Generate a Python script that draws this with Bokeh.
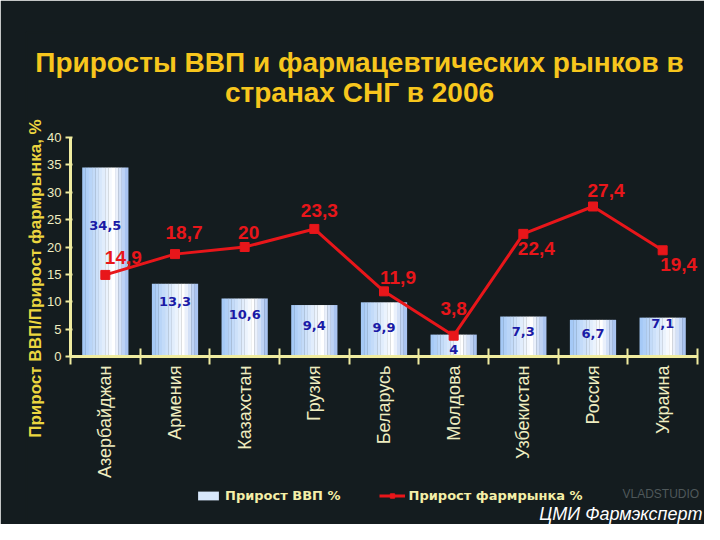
import math
from bokeh.plotting import figure
from bokeh.models import (ColumnDataSource, Range1d, FixedTicker, Legend,
                          LegendItem, Label)
from bokeh.transform import dodge
from bokeh.core.properties import value
from bokeh.embed import file_html
from bokeh.resources import INLINE

# ---------------- data ----------------
countries = ["Азербайджан", "Армения", "Казахстан", "Грузия", "Беларусь",
             "Молдова", "Узбекистан", "Россия", "Украина"]
gdp_growth = [34.5, 13.3, 10.6, 9.4, 9.9, 4.0, 7.3, 6.7, 7.1]
pharma_growth = [14.9, 18.7, 20.0, 23.3, 11.9, 3.8, 22.4, 27.4, 19.4]
y_ticks = [0, 5, 10, 15, 20, 25, 30, 35, 40]

title_lines = ["Приросты ВВП и фармацевтических рынков в", "странах СНГ в 2006"]
y_title = "Прирост ВВП/Прирост фармрынка, %"
legend_labels = ["Прирост ВВП %", "Прирост фармрынка %"]
credit = "ЦМИ Фармэксперт"

# ---------------- styles (label offsets in pixels) ----------------
bar_label_dy = [58, 18, 16, 20, 25, 15, 15, 14, 6]
line_label_dx = [18, 9, 4, 5, 14, 0, 13, 13, 16]
line_label_dy = [-17, -22, -15, -18, -14, -27, 15, -16, 14]

BG = "#141c1f"
AXC = "#f0eca0"
TICKC = "#efedc0"
FONT = "Liberation Sans"

# layout geometry (pixels)
W, H = 704, 524
FRAME_LEFT, FRAME_TOP = 26, 32
AXIS_LEFT, AXIS_TOP, AXIS_RIGHT, AXIS_BOTTOM = 70, 137, 697, 356
Y_MAX = 40
n = len(countries)
cat_px = (AXIS_RIGHT - AXIS_LEFT) / n
unit_px = (AXIS_BOTTOM - AXIS_TOP) / Y_MAX


def fmt(v):
    return ("%g" % v).replace(".", ",")


xpos = list(range(1, n + 1))
src = ColumnDataSource(dict(
    x=xpos, gdp=gdp_growth, pharma=pharma_growth,
    gdp_txt=[fmt(v) for v in gdp_growth],
    ph_txt=[fmt(v) for v in pharma_growth],
    bdy=bar_label_dy, ldx=line_label_dx, ldy=line_label_dy,
    name=countries,
))

p = figure(width=W, height=H, output_backend="svg", toolbar_location=None,
           x_range=Range1d(0.5 - (AXIS_LEFT - FRAME_LEFT) / cat_px,
                           0.5 + (W - AXIS_LEFT) / cat_px),
           y_range=Range1d(-(H - AXIS_BOTTOM) / unit_px,
                           Y_MAX + (AXIS_TOP - FRAME_TOP) / unit_px),
           x_axis_location="above",
           min_border_left=FRAME_LEFT, min_border_right=0,
           min_border_top=FRAME_TOP, min_border_bottom=0,
           background_fill_color=BG, border_fill_color=BG,
           outline_line_color=BG, outline_line_width=2)
p.xgrid.visible = False
p.ygrid.visible = False

# bars with a horizontal gradient, drawn as thin vertical strips
BAR_W = 0.66
N_STRIPS = 14
stops = [(0.0, (160, 198, 245)), (0.68, (255, 255, 255)), (1.0, (158, 188, 238))]


def grad(t):
    for (t0, c0), (t1, c1) in zip(stops[:-1], stops[1:]):
        if t <= t1:
            f = (t - t0) / (t1 - t0)
            return "#%02x%02x%02x" % tuple(int(round(a + (b - a) * f)) for a, b in zip(c0, c1))
    return "#%02x%02x%02x" % stops[-1][1]


strip_w = BAR_W / N_STRIPS
bar_rs = []
for k in range(N_STRIPS):
    off = -BAR_W / 2 + (k + 0.5) * strip_w
    r = p.vbar(x=dodge("x", off), top="gdp", width=strip_w * 1.08, bottom=0,
               source=src, fill_color=grad((k + 0.5) / N_STRIPS),
               line_color=None)
    bar_rs.append(r)

p.text(x="x", y="gdp", text="gdp_txt", source=src, y_offset="bdy",
       text_align="center", text_baseline="middle",
       text_font=value("DejaVu Sans"), text_font_size="13px",
       text_font_style="bold", text_color="#1a1aa6")

RED = "#e8161a"
line_r = p.line(x="x", y="pharma", source=src, line_color=RED, line_width=3)
sc_r = p.scatter(x="x", y="pharma", source=src, marker="square", size=9,
                 fill_color=RED, line_color=RED)
p.text(x="x", y="pharma", text="ph_txt", source=src, x_offset="ldx",
       y_offset="ldy", text_align="center", text_baseline="middle",
       text_font=value(FONT), text_font_size="19px", text_font_style="bold",
       text_color=RED)

# category labels, reading upwards, under the category axis
p.text(x="x", y=0, text="name", source=src, angle=math.pi / 2, y_offset=9,
       text_align="right", text_baseline="middle", text_font=value(FONT),
       text_font_size="18px", text_color=TICKC)

# category axis drawn at y = 0
xa = p.xaxis[0]
xa.fixed_location = 0
xa.bounds = (0.5, n + 0.5)
xa.ticker = FixedTicker(ticks=[], minor_ticks=[i + 0.5 for i in range(n + 1)])
xa.major_tick_line_color = None
xa.major_tick_in = 0
xa.major_tick_out = 0
xa.major_label_standoff = 0
xa.major_label_text_font_size = "1px"
xa.minor_tick_line_color = AXC
xa.minor_tick_line_width = 2
xa.minor_tick_in = 8
xa.minor_tick_out = 8
xa.axis_line_color = AXC
xa.axis_line_width = 3

# value axis drawn at the left edge of the first category
ya = p.yaxis[0]
ya.fixed_location = 0.5
ya.bounds = (0, Y_MAX)
ya.ticker = FixedTicker(ticks=y_ticks)
ya.minor_tick_line_color = None
ya.major_tick_line_color = AXC
ya.major_tick_line_width = 2
ya.major_tick_in = 2
ya.major_tick_out = 5
ya.axis_line_color = AXC
ya.axis_line_width = 3
ya.major_label_text_color = TICKC
ya.major_label_text_font = FONT
ya.major_label_text_font_size = "13px"
ya.major_label_standoff = 4


def sx(px):
    return px - FRAME_LEFT


def sy(py):
    return H - py


# axis title
p.add_layout(Label(x=sx(35), y=sy(278), x_units="screen", y_units="screen",
                   text=y_title, angle=math.pi / 2, text_align="center",
                   text_baseline="middle", text_font=FONT,
                   text_font_size="17px", text_font_style="bold",
                   text_color="#ecd640"))

# title lines
TITLEC = "#f7c61d"
for txt, yc in zip(title_lines, [62, 92]):
    p.add_layout(Label(x=sx(359), y=sy(yc), x_units="screen", y_units="screen",
                       text=txt, text_align="center", text_baseline="middle",
                       text_font=FONT, text_font_size="28px",
                       text_font_style="bold", text_color=TITLEC))

legend = Legend(items=[LegendItem(label=legend_labels[0], renderers=[bar_rs[5]]),
                       LegendItem(label=legend_labels[1], renderers=[line_r, sc_r])],
                orientation="horizontal", location=(sx(195), sy(503)),
                background_fill_alpha=0, border_line_alpha=0,
                label_text_color="#f4efa8", label_text_font="DejaVu Sans",
                label_text_font_style="bold", label_text_font_size="13px",
                glyph_width=26, glyph_height=11, spacing=38, padding=0,
                margin=0, label_standoff=4)
p.add_layout(legend)

p.add_layout(Label(x=sx(622), y=sy(493), x_units="screen", y_units="screen",
                   text="VLADSTUDIO", text_align="left", text_baseline="middle",
                   text_font=FONT, text_font_size="12px", text_color="#4f585a"))

p.add_layout(Label(x=sx(702), y=sy(513), x_units="screen", y_units="screen",
                   text=credit, text_align="right", text_baseline="middle",
                   text_font=FONT, text_font_size="18px",
                   text_font_style="italic", text_color="#ffffff"))

open("out.html", "w").write(file_html(p, INLINE))
